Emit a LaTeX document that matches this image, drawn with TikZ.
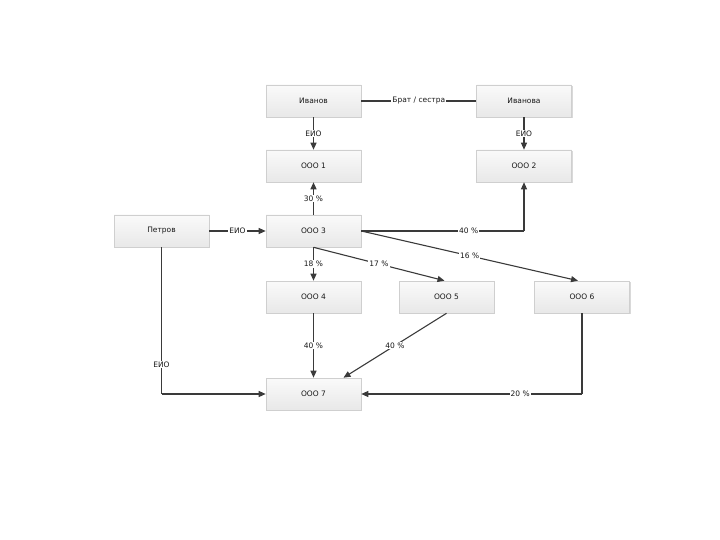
\documentclass[tikz,border=0pt]{standalone}
\usepackage{fontspec}
\setmainfont{DejaVu Sans}
\usetikzlibrary{arrows.meta,shadows}
\definecolor{edgec}{HTML}{3A3A3A}
\definecolor{boxb}{HTML}{CFCFCF}
\definecolor{boxtop}{HTML}{FAFAFA}
\definecolor{boxbot}{HTML}{E8E8E8}
\tikzset{
  ent/.style={draw=boxb, line width=0.6pt, top color=boxtop, bottom color=boxbot,
    minimum width=95pt, minimum height=32pt, inner sep=0pt,
    font=\fontsize{7.5}{9}\selectfont, text=black!90,
    drop shadow={shadow xshift=1pt, shadow yshift=-1.2pt, fill=black!25, opacity=0.6}},
  conn/.style={draw=edgec, line width=1.1pt},
  arr/.style={conn, -{Triangle[length=7pt,width=6pt]}},
  lbl/.style={fill=white, inner sep=1pt, font=\fontsize{7.5}{9}\selectfont, text=black!90}
}
\begin{document}
\begin{tikzpicture}[x=1pt,y=-1pt]
\useasboundingbox (0,0) rectangle (720,540);
\node[ent] (ivanov) at (313.5,101) {Иванов};
\node[ent] (ivanova) at (524,101) {Иванова};
\node[ent] (o1) at (313.5,166) {ООО 1};
\node[ent] (o2) at (524,166) {ООО 2};
\node[ent] (petrov) at (161.5,231) {Петров};
\node[ent] (o3) at (313.5,231) {ООО 3};
\node[ent] (o4) at (313.5,297) {ООО 4};
\node[ent] (o5) at (446.5,297) {ООО 5};
\node[ent] (o6) at (582,297) {ООО 6};
\node[ent] (o7) at (313.5,394) {ООО 7};
\coordinate (c32) at (o2.south |- o3.east);
\coordinate (c67) at (o6.south |- o7.east);
\coordinate (cp7) at (petrov.south |- o7.west);

\draw[conn] (ivanov) -- node[lbl] {Брат / сестра} (ivanova);
\draw[arr] (ivanov) -- node[lbl] {ЕИО} (o1);
\draw[arr] (ivanova) -- node[lbl] {ЕИО} (o2);
\draw[arr] (o3) -- node[lbl] {30 \%} (o1);
\draw[arr] (petrov) -- node[lbl] {ЕИО} (o3);
\draw[conn] (o3.east) -- node[lbl, pos=0.66] {40 \%} (c32);
\draw[arr] (c32) -- (o2.south);
\draw[arr] (o3.east) -- node[lbl] {16 \%} ([xshift=-4pt]o6.north);
\draw[arr] (o3.south) -- node[lbl] {17 \%} ([xshift=-2pt]o5.north);
\draw[arr] (o3.south) -- node[lbl] {18 \%} (o4.north);
\draw[arr] (o4) -- node[lbl] {40 \%} (o7);
\draw[arr] (o5.south) -- node[lbl] {40 \%} ([xshift=30pt]o7.north);
\draw[conn] (o6.south) -- (c67);
\draw[arr] (c67) -- node[lbl, pos=0.28] {20 \%} (o7.east);
\draw[conn] (petrov.south) -- node[lbl, pos=0.8] {ЕИО} (cp7);
\draw[arr] (cp7) -- (o7.west);
\end{tikzpicture}
\end{document}
